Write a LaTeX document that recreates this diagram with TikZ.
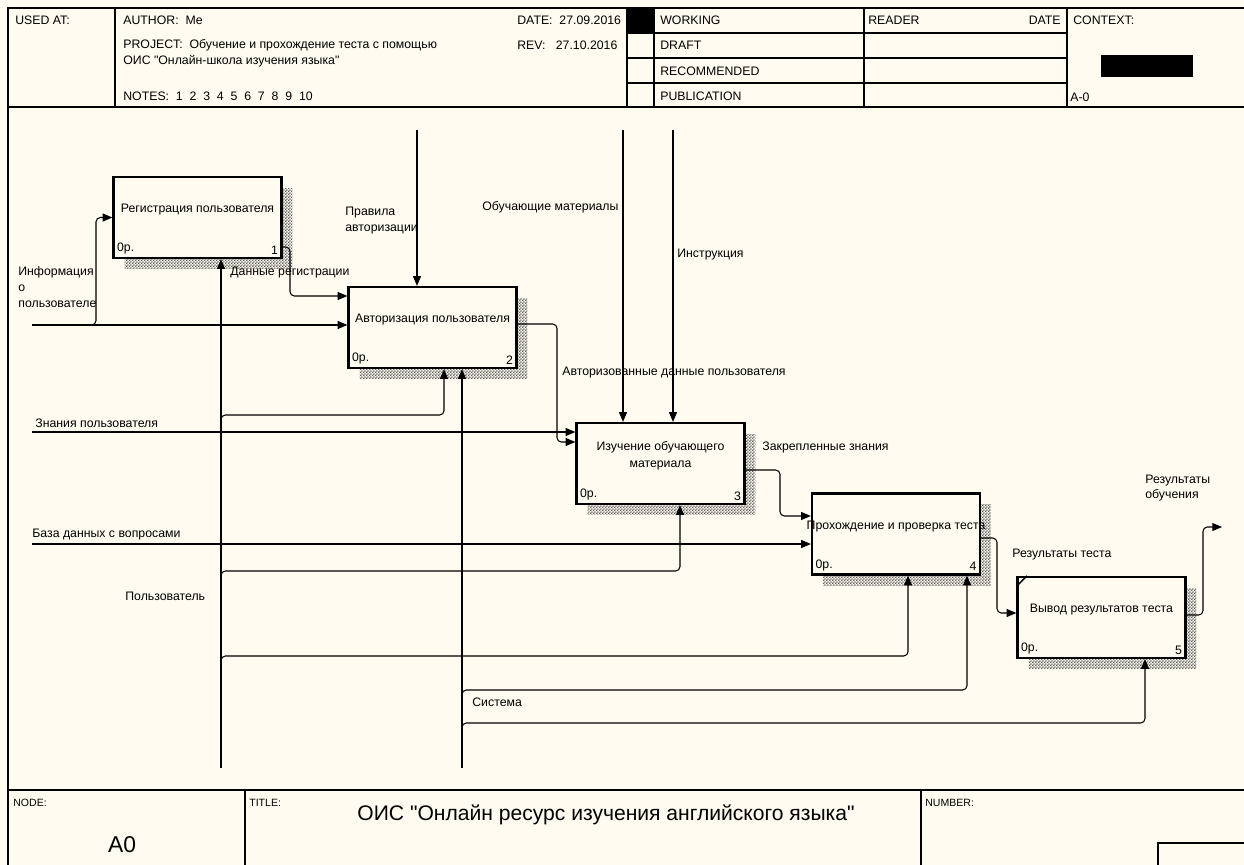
\documentclass[tikz,border=0pt]{standalone}
\usepackage{fontspec}
\setmainfont{Liberation Sans}[Ligatures=TeXOff]
\usepackage{tikz}
\usetikzlibrary{arrows.meta,positioning,patterns,calc}
\usepackage{xcolor}
\definecolor{idefpaper}{RGB}{255,251,240}
\definecolor{idefshade}{RGB}{95,95,95}
\pgfdeclarepatternformonly{idefhalftone}{\pgfpointorigin}{\pgfqpoint{1.6pt}{1.6pt}}{\pgfqpoint{1.6pt}{1.6pt}}{%
    \pgfpathrectangle{\pgfpointorigin}{\pgfqpoint{0.8pt}{0.8pt}}%
    \pgfpathrectangle{\pgfqpoint{0.8pt}{0.8pt}}{\pgfqpoint{0.8pt}{0.8pt}}%
    \pgfusepath{fill}}
\tikzset{
    idefbox/.style={draw, line width=1.3pt, fill=idefpaper, minimum width=3.36cm, minimum height=1.62cm, inner sep=0pt},
    idefshadow/.style={pattern=idefhalftone, pattern color=idefshade, minimum width=3.36cm, minimum height=1.62cm, inner sep=0pt},
    idefarrow/.style={-{Triangle[length=5.5pt,width=4.5pt]}, line width=0.6pt, rounded corners=2.5pt},
    ideflabel/.style={font=\fontsize{7}{9}\selectfont, align=left, inner sep=0pt, anchor=west},
    idefhead/.style={font=\fontsize{7}{9}\selectfont, inner sep=0pt, anchor=west}
}

\begin{document}
\begin{tikzpicture}[x=0.02cm, y=-0.02cm,
        boxtitle/.style={anchor=center, yshift=4.5pt, align=center, font=\fontsize{7}{9.6}\selectfont},
        boxcorner/.style={anchor=south west, inner sep=2.5pt, font=\fontsize{7}{9}\selectfont},
        boxnum/.style={anchor=south east, inner sep=2.5pt, font=\fontsize{7}{9}\selectfont},
        frameline/.style={line width=0.9pt}
    ]
        \fill[idefpaper] (0,0) rectangle (1244,865);
        \useasboundingbox (0,0) rectangle (1244,865);

        % header and footer frame
        \draw[frameline] (8,865) -- (8,8) -- (1244,8);
        \draw[frameline] (8,107) -- (1244,107);
        \draw[frameline] (8,790) -- (1244,790);
        \draw[frameline] (115,8) -- (115,107);
        \foreach \hx in {627,654,864,1067} \draw[frameline] (\hx,8) -- (\hx,107);
        \foreach \hy in {33,58,83} \draw[frameline] (627,\hy) -- (1067,\hy);
        \fill (627,8) rectangle (654,33);
        \fill (1101,55) rectangle (1193,77);
        \draw[frameline] (245,790) -- (245,865);
        \draw[frameline] (921,790) -- (921,865);
        \draw[frameline] (1158,865) |- (1244,843);

        \node[idefhead] (usedat) at (15,20) {USED AT:};
        \node[idefhead] (author) at (123,20) {AUTHOR:\ \ Me};
        \node[idefhead] (date) at (517,20) {DATE:\ \ 27.09.2016};
        \node[idefhead] (project) at (123,45) {PROJECT:\ \ Обучение и прохождение теста с помощью};
        \node[idefhead] (project2) at (123,61) {ОИС "Онлайн-школа изучения языка"};
        \node[idefhead] (rev) at (517,45) {REV:\ \ \ 27.10.2016};
        \node[idefhead] (notes) at (123,96) {NOTES:\ \ 1\ \ 2\ \ 3\ \ 4\ \ 5\ \ 6\ \ 7\ \ 8\ \ 9\ \ 10};
        \node[idefhead] (working) at (660,20) {WORKING};
        \node[idefhead] (draft) at (660,45) {DRAFT};
        \node[idefhead] (recommended) at (660,71) {RECOMMENDED};
        \node[idefhead] (publication) at (660,96) {PUBLICATION};
        \node[idefhead] (reader) at (868,20) {READER};
        \node[idefhead, anchor=east] (rdate) at (1061,20) {DATE};
        \node[idefhead] (context) at (1073,20) {CONTEXT:};
        \node[idefhead] (ctxnode) at (1070,97) {A-0};

        \node[idefhead, font=\fontsize{6}{7}\selectfont] (nodehead) at (13,803) {NODE:};
        \node[idefhead, font=\fontsize{6}{7}\selectfont] (titlehead) at (249,803) {TITLE:};
        \node[idefhead, font=\fontsize{6}{7}\selectfont] (numberhead) at (925,803) {NUMBER:};
        \node[inner sep=0pt, font=\fontsize{13}{15}\selectfont] (nodeno) at (122,845) {A0};
        \node[inner sep=0pt, font=\fontsize{12}{14}\selectfont] (title) at (606,815) {ОИС "Онлайн ресурс изучения английского языка"};

        % activity boxes
        \foreach \cx/\cy in {197.5/217.5, 432.5/327.5, 660.5/463.5, 896/534, 1101.5/617.5}
            \node[idefshadow] at (\cx+11,\cy+11) {};
        \node[idefbox, label={[boxtitle]center:Регистрация пользователя}, label={[boxcorner]south west:0р.}, label={[boxnum]south east:1}] (reg) at (197.5,217.5) {};
        \node[idefbox, label={[boxtitle]center:Авторизация пользователя}, label={[boxcorner]south west:0р.}, label={[boxnum]south east:2}] (auth) at (432.5,327.5) {};
        \node[idefbox, label={[boxtitle]center:Изучение обучающего\\материала}, label={[boxcorner]south west:0р.}, label={[boxnum]south east:3}] (study) at (660.5,463.5) {};
        \node[idefbox, label={[boxtitle]center:Прохождение и проверка теста}, label={[boxcorner]south west:0р.}, label={[boxnum]south east:4}] (test) at (896,534) {};
        \node[idefbox, label={[boxtitle]center:Вывод результатов теста}, label={[boxcorner]south west:0р.}, label={[boxnum]south east:5}] (result) at (1101.5,617.5) {};
        \draw[line width=0.8pt] ([yshift=-6pt]result.north west) -- ([xshift=6pt]result.north west);

        % inputs
        \coordinate (infoin) at (32,325);
        \coordinate (knowin) at (32,432);
        \coordinate (basein) at (32,544);
        \draw[idefarrow] (infoin) -- (auth.west |- infoin);
        \draw[idefarrow] (86,325) -| (96,270) |- (reg.west);
        \draw[idefarrow] (knowin) -- (study.west |- knowin);
        \draw[idefarrow] (basein) -- (test.west |- basein);

        % controls
        \coordinate (rulesin) at (417,130);
        \coordinate (matin) at (623,130);
        \coordinate (instrin) at (673,130);
        \draw[idefarrow] (rulesin) -- (rulesin |- auth.north);
        \draw[idefarrow] (matin) -- (matin |- study.north);
        \draw[idefarrow] (instrin) -- (instrin |- study.north);

        % outputs
        \coordinate (learnout) at (1222,527);
        \draw[idefarrow] (reg.east |- 0,247) -| (290,296) -- (auth.west |- 0,296);
        \draw[idefarrow] (auth.east |- 0,324) -| (557,442) -- (study.west |- 0,442);
        \draw[idefarrow] (study.east |- 0,470) -| (780,516) -- (test.west |- 0,516);
        \draw[idefarrow] (test.east |- 0,538) -| (997,613) -- (result.west |- 0,613);
        \draw[idefarrow] (result.east |- 0,615) -| (1203,527) -- (learnout);

        % mechanisms
        \coordinate (userin) at (221,768);
        \coordinate (sysin) at (462,768);
        \draw[idefarrow] (userin) -- (userin |- reg.south);
        \draw[idefarrow] (221,423) |- (300,415) -| (444,0 |- auth.south);
        \draw[idefarrow] (221,579) |- (300,571) -| (680,0 |- study.south);
        \draw[idefarrow] (221,664) |- (300,656) -| (908,0 |- test.south);
        \draw[idefarrow] (sysin) -- (sysin |- auth.south);
        \draw[idefarrow] (462,698) |- (520,690) -| (967,0 |- test.south);
        \draw[idefarrow] (462,731) |- (520,723) -| (1145,0 |- result.south);

        % arrow labels
        \node[ideflabel] (lblinfo) at (18,287) {Информация\\о\\пользователе};
        \node[ideflabel] (lblreg) at (230,273) {Данные регистрации};
        \node[ideflabel] (lblrules) at (345,220.5) {Правила\\авторизации};
        \node[ideflabel] (lblauth) at (562,373) {Авторизованные данные пользователя};
        \node[ideflabel] (lblknow) at (35,423) {Знания пользователя};
        \node[ideflabel] (lblmat) at (482,207) {Обучающие материалы};
        \node[ideflabel] (lblinstr) at (677,255) {Инструкция};
        \node[ideflabel] (lblfixed) at (762,447) {Закрепленные знания};
        \node[ideflabel] (lblbase) at (32,535) {База данных с вопросами};
        \node[ideflabel] (lbltest) at (1012,555) {Результаты теста};
        \node[ideflabel] (lbllearn) at (1145,488) {Результаты\\обучения};
        \node[ideflabel] (lbluser) at (125,596) {Пользователь};
        \node[ideflabel] (lblsys) at (472,702) {Система};
    \end{tikzpicture}
\end{document}
